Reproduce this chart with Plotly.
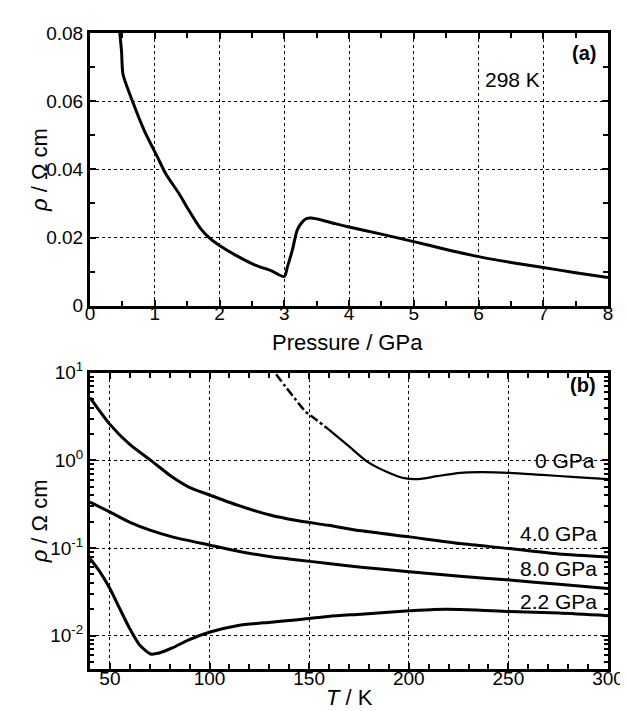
import plotly.graph_objects as go

# ---- Panel (a): resistivity vs pressure at 298 K ----
pressure = [0.46, 0.487, 0.51, 0.664, 0.84, 1.045, 1.17, 1.374, 1.527, 1.705, 1.857, 2.03,
            2.29, 2.54, 2.795, 3.00, 3.05, 3.125, 3.20, 3.28, 3.35, 3.42, 3.60, 3.80,
            4.00, 4.50, 5.00, 5.50, 6.00, 6.50, 7.00, 7.50, 8.00]
rho_p = [0.0800, 0.0747, 0.0679, 0.0596, 0.0513, 0.0435, 0.0387, 0.0329, 0.0280, 0.0227,
         0.0197, 0.0173, 0.0144, 0.0120, 0.0103, 0.00855, 0.01146, 0.0163, 0.0222, 0.0246,
         0.0256, 0.0257, 0.0250, 0.0240, 0.0231, 0.0210, 0.0188, 0.0165, 0.0144, 0.0127,
         0.0112, 0.0097, 0.0083]

# ---- Panel (b): resistivity vs temperature ----
T_40 = [40, 49.9, 59.8, 70.5, 81.3, 89.6, 100.3, 114.4, 130.9, 143.1, 159.6, 176.2,
        200.2, 225.8, 250.6, 275.4, 300]
rho_40 = [5.2, 2.59, 1.53, 1.0, 0.645, 0.496, 0.40, 0.306, 0.236, 0.207, 0.1815, 0.157,
          0.134, 0.1125, 0.0986, 0.0853, 0.079]

T_80 = [40, 49.9, 59.8, 70.5, 81.3, 100.3, 114.4, 130.9, 143.1, 159.6, 176.2, 200.2,
        225.8, 250.6, 275.4, 300]
rho_80 = [0.334, 0.258, 0.198, 0.159, 0.134, 0.1077, 0.092, 0.0794, 0.0735, 0.0667, 0.0603,
          0.0537, 0.0475, 0.0431, 0.0385, 0.0345]

T_22 = [40, 44.9, 49.9, 54.8, 59.8, 64.8, 70.5, 74.7, 81.3, 89.6, 100.3, 114.4, 130.9,
        143.1, 159.6, 176.2, 200.2, 212.6, 225.8, 250.6, 275.4, 300]
rho_22 = [0.076, 0.0537, 0.0347, 0.0206, 0.0122, 0.0079, 0.00618, 0.00634, 0.00724,
          0.00897, 0.011, 0.0131, 0.01426, 0.0151, 0.0166, 0.0176, 0.0192, 0.0199, 0.0199,
          0.0189, 0.0181, 0.0169]

T_0a = [133.4, 138.0, 143.1, 148.2, 154.0, 159.6]
rho_0a = [9.6, 7.0, 4.98, 3.6, 2.85, 2.27]
T_0b = [159.6, 169.6, 179.5, 189.4, 197.7, 206.0, 214.2, 225.8, 235.7, 250.6, 267.0,
        283.7, 300]
rho_0b = [2.27, 1.47, 0.955, 0.733, 0.627, 0.615, 0.66, 0.72, 0.733, 0.72, 0.682, 0.645,
          0.612]

log_ticks = [0.01, 0.1, 1, 10]
log_ticktext = ["10<sup>-2</sup>", "10<sup>-1</sup>", "10<sup>0</sup>", "10<sup>1</sup>"]
log_minor = [m * d for d in [0.001, 0.01, 0.1, 1] for m in range(2, 10) if 0.0043 < m * d < 10]

FONT = "Liberation Sans, Arial, sans-serif"
fig = go.Figure()

def add_line(x, y, xa, ya, width=3, dash="solid"):
    fig.add_trace(go.Scatter(x=x, y=y, mode="lines", xaxis=xa, yaxis=ya, showlegend=False,
                             line=dict(color="black", width=width, dash=dash,
                                       shape="spline", smoothing=0.7)))

add_line(pressure, rho_p, "x", "y")
add_line(T_40, rho_40, "x2", "y2")
add_line(T_80, rho_80, "x2", "y2")
add_line(T_22, rho_22, "x2", "y2")
add_line(T_0a, rho_0a, "x2", "y2", width=2.5, dash="dashdot")
add_line(T_0b, rho_0b, "x2", "y2", width=2.2)

common = dict(showline=True, linecolor="black", linewidth=3, mirror="allticks", ticks="inside",
              ticklen=6, tickwidth=1.5, tickcolor="black", showgrid=True, gridcolor="black",
              gridwidth=1, zeroline=False, tickfont=dict(family=FONT, size=19, color="black"))

fig.update_layout(
    width=628, height=711, paper_bgcolor="white", plot_bgcolor="white",
    margin=dict(l=82, r=21, t=22, b=50),
    font=dict(family=FONT, color="black"),
    xaxis=dict(domain=[0, 1], anchor="y", range=[0, 8], dtick=1, griddash="dot",
               ticklabelstandoff=-12,
               minor=dict(dtick=0.5, ticks="inside", ticklen=5, tickcolor="black", showgrid=False),
               **common),
    yaxis=dict(domain=[0.5712, 1], anchor="x", range=[0, 0.08], dtick=0.02, griddash="dot",
               minor=dict(dtick=0.01, ticks="inside", ticklen=5, tickcolor="black", showgrid=False),
               **common),
    xaxis2=dict(domain=[0, 1], anchor="y2", range=[40, 300], tickvals=[50, 100, 150, 200, 250, 300],
                griddash="3px,3px", ticklabelstandoff=-10,
                minor=dict(dtick=10, ticks="inside", ticklen=5, tickcolor="black", showgrid=False),
                **common),
    yaxis2=dict(domain=[0, 0.4659], anchor="x2", type="log", range=[-2.38, 1],
                tickvals=log_ticks, ticktext=log_ticktext, griddash="3px,3px",
                minor=dict(tickvals=log_minor, ticks="inside", ticklen=4, tickcolor="black", showgrid=False),
                **common),
)

def px(x):
    return (x - 82) / 525.0

def py(y):
    return (661 - y) / 639.0

ann = [
    dict(text="<b>(a)</b>", x=px(597), y=py(42), xanchor="right", size=20),
    dict(text="298 K", x=px(510), y=py(69), xanchor="center", size=21),
    dict(text="<b>(b)</b>", x=px(597), y=py(376), xanchor="right", size=20),
    dict(text="0 GPa", x=px(596), y=py(452), xanchor="right", size=21),
    dict(text="4.0 GPa", x=px(598), y=py(525), xanchor="right", size=21),
    dict(text="8.0 GPa", x=px(598), y=py(560), xanchor="right", size=21),
    dict(text="2.2 GPa", x=px(598), y=py(593), xanchor="right", size=21),
    dict(text="Pressure / GPa", x=px(343), y=py(333), xanchor="center", size=22),
    dict(text="<i>T</i> / K", x=px(345), y=py(690), xanchor="center", size=22),
]
for a in ann:
    fig.add_annotation(text=a["text"], x=a["x"], y=a["y"], xref="paper", yref="paper",
                       xanchor=a["xanchor"], yanchor="middle", showarrow=False,
                       font=dict(family=FONT, size=a["size"], color="black"))
for ytxt, ypos in [("<i>ρ</i> / Ω cm", 160), ("<i>ρ</i> / Ω cm", 513)]:
    fig.add_annotation(text=ytxt, x=px(31), y=py(ypos), xref="paper", yref="paper",
                       xanchor="center", yanchor="middle", textangle=-90, showarrow=False,
                       font=dict(family=FONT, size=22, color="black"))

fig.write_html("out.html")
